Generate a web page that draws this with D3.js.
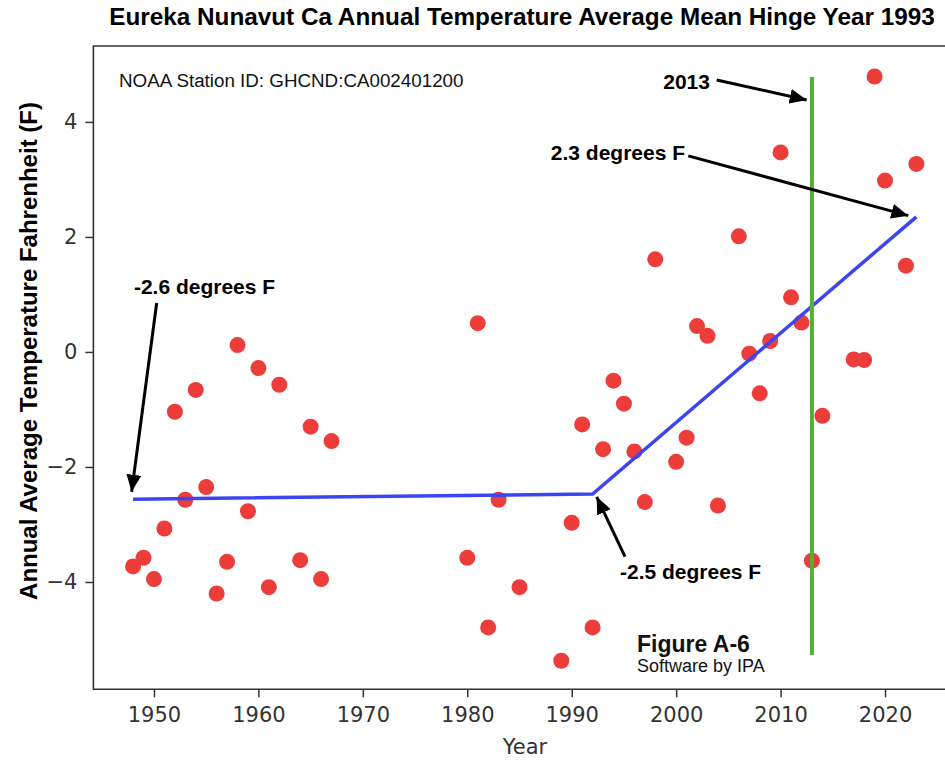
<!DOCTYPE html>
<html>
<head>
<meta charset="utf-8">
<script src="https://cdn.jsdelivr.net/npm/d3@7"></script>
<style>
  html, body { margin: 0; padding: 0; background: #fff; }
  svg { display: block; }
</style>
</head>
<body>
<svg id="chart" width="945" height="761"></svg>
<script>
// ---- data ----
const years = [1948,1949,1950,1951,1952,1953,1954,1955,1956,1957,1958,1959,1960,1961,1962,1964,1965,1966,1967,
  1980,1981,1982,1983,1985,1989,1990,1991,1992,1993,1994,1995,1996,1997,1998,2000,2001,2002,2003,2004,
  2006,2007,2008,2009,2010,2011,2012,2013,2014,2017,2018,2019,2020,2022,2023];
const temps = [-3.73,-3.58,-3.95,-3.07,-1.04,-2.57,-0.66,-2.35,-4.20,-3.65,0.12,-2.77,-0.28,-4.09,-0.57,-3.62,-1.30,-3.95,-1.55,
  -3.58,0.50,-4.79,-2.57,-4.09,-5.37,-2.97,-1.26,-4.79,-1.69,-0.50,-0.90,-1.73,-2.61,1.61,-1.91,-1.49,0.45,0.28,-2.67,
  2.01,-0.03,-0.72,0.19,3.47,0.95,0.51,-3.63,-1.11,-0.13,-0.14,4.79,2.98,1.50,3.27];

const hingeYears = [1948, 1992, 2023];
const hingeValues = [-2.56, -2.47, 2.35];

const markerYear = 2013;
const markerRange = [4.78, -5.27];

const xTicks = [1950,1960,1970,1980,1990,2000,2010,2020];
const yTicks = [-4,-2,0,2,4];

const titleText = "Eureka Nunavut Ca Annual Temperature Average Mean Hinge Year 1993";
const xLabel = "Year";
const yLabel = "Annual Average Temperature Fahrenheit (F)";

const annTexts = ["-2.6 degrees F", "-2.5 degrees F", "2.3 degrees F", "2013"];
const annAnchor = ["start", "start", "end", "end"];
const annYear = [1948.08, 1994.62, 2000.85, 2003.24];
const annValue = [1.01, -3.95, 3.34, 4.57];
const arrowFromYear = [1950.26, 1995.1, 2001.16, 2003.88];
const arrowFromValue = [0.85, -3.56, 3.41, 4.73];
const arrowToYear = [1947.86, 1992.39, 2022.23, 2012.50];
const arrowToValue = [-2.43, -2.52, 2.37, 4.38];

const noteTexts = ["NOAA Station ID: GHCND:CA002401200", "Figure A-6", "Software by IPA"];
const noteYear = [1946.65, 1996.25, 1996.25];
const noteValue = [4.61, -5.22, -5.57];

// ---- layout ----
const svg = d3.select("#chart");
const plotLeft = 93.4, plotRight = 955, plotTop = 46, plotBottom = 689.3;
const x = d3.scaleLinear().domain([1944.2, 2026.7]).range([plotLeft, plotRight]);
const y = d3.scaleLinear().domain([-5.866, 5.32]).range([plotBottom, plotTop]);

const defs = svg.append("defs");
defs.append("marker")
  .attr("id", "arrow")
  .attr("markerUnits", "userSpaceOnUse")
  .attr("viewBox", "0 0 17 15")
  .attr("markerWidth", 17).attr("markerHeight", 15)
  .attr("refX", 17).attr("refY", 7.5)
  .attr("orient", "auto")
  .append("path").attr("d", "M0,0 L17,7.5 L0,15 Z").attr("fill", "#000");

// title
svg.append("text")
  .attr("x", 522).attr("y", 25)
  .attr("text-anchor", "middle")
  .attr("font-family", "'Liberation Sans', Arial, sans-serif")
  .attr("font-weight", "bold").attr("font-size", 24.3)
  .attr("fill", "#000")
  .text(titleText);

// axes
const tickFont = "'DejaVu Sans', sans-serif";
const gx = svg.append("g").attr("transform", `translate(0,${plotBottom})`)
  .call(d3.axisBottom(x).tickValues(xTicks).tickFormat(d3.format("d")).tickSize(8).tickPadding(10));
const gy = svg.append("g").attr("transform", `translate(${plotLeft},0)`)
  .call(d3.axisLeft(y).tickValues(yTicks).tickFormat(d => d < 0 ? "\u2212" + Math.abs(d) : d).tickSize(8).tickPadding(8));
[gx, gy].forEach(g => {
  g.select(".domain").remove();
  g.selectAll(".tick line").attr("stroke", "#333").attr("stroke-width", 1.5);
  g.selectAll(".tick text").attr("font-family", tickFont).attr("font-size", 21).attr("fill", "#333");
});

// frame (spines)
svg.append("path")
  .attr("d", `M${plotRight},${plotTop} L${plotLeft},${plotTop} L${plotLeft},${plotBottom} L${plotRight},${plotBottom}`)
  .attr("fill", "none").attr("stroke", "#333").attr("stroke-width", 1.6);

// axis labels
svg.append("text")
  .attr("x", 525).attr("y", 754)
  .attr("text-anchor", "middle")
  .attr("font-family", tickFont).attr("font-size", 21).attr("fill", "#333")
  .text(xLabel);
svg.append("text")
  .attr("transform", "translate(37,351) rotate(-90)")
  .attr("text-anchor", "middle")
  .attr("font-family", "'Liberation Sans', Arial, sans-serif")
  .attr("font-weight", "bold").attr("font-size", 24).attr("fill", "#000")
  .text(yLabel);

// points
svg.append("g").selectAll("circle")
  .data(years.map((yr, i) => [yr, temps[i]]))
  .join("circle")
  .attr("cx", d => x(d[0])).attr("cy", d => y(d[1]))
  .attr("r", 8)
  .attr("fill", "#ec3d3a");

// hinge line
svg.append("path")
  .datum(hingeYears.map((yr, i) => [yr, hingeValues[i]]))
  .attr("d", d3.line().x(d => x(d[0])).y(d => y(d[1])))
  .attr("fill", "none").attr("stroke", "#3b45f2").attr("stroke-width", 3.5);

// 2013 marker line
svg.append("line")
  .attr("x1", x(markerYear)).attr("x2", x(markerYear))
  .attr("y1", y(markerRange[0])).attr("y2", y(markerRange[1]))
  .attr("stroke", "#52b032").attr("stroke-width", 4);

// annotations
const annFont = "'Liberation Sans', Arial, sans-serif";
annTexts.forEach((t, i) => {
  svg.append("text")
    .attr("x", x(annYear[i])).attr("y", y(annValue[i]))
    .attr("text-anchor", annAnchor[i])
    .attr("font-family", annFont).attr("font-weight", "bold").attr("font-size", 21)
    .attr("fill", "#000").text(t);
  svg.append("line")
    .attr("x1", x(arrowFromYear[i])).attr("y1", y(arrowFromValue[i]))
    .attr("x2", x(arrowToYear[i])).attr("y2", y(arrowToValue[i]))
    .attr("stroke", "#000").attr("stroke-width", 3)
    .attr("marker-end", "url(#arrow)");
});

// notes
const noteSize = [18.8, 23, 18];
const noteWeight = ["normal", "bold", "normal"];
noteTexts.forEach((t, i) => {
  svg.append("text")
    .attr("x", x(noteYear[i])).attr("y", y(noteValue[i]))
    .attr("font-family", annFont).attr("font-weight", noteWeight[i]).attr("font-size", noteSize[i])
    .attr("fill", "#111").text(t);
});
</script>
</body>
</html>
